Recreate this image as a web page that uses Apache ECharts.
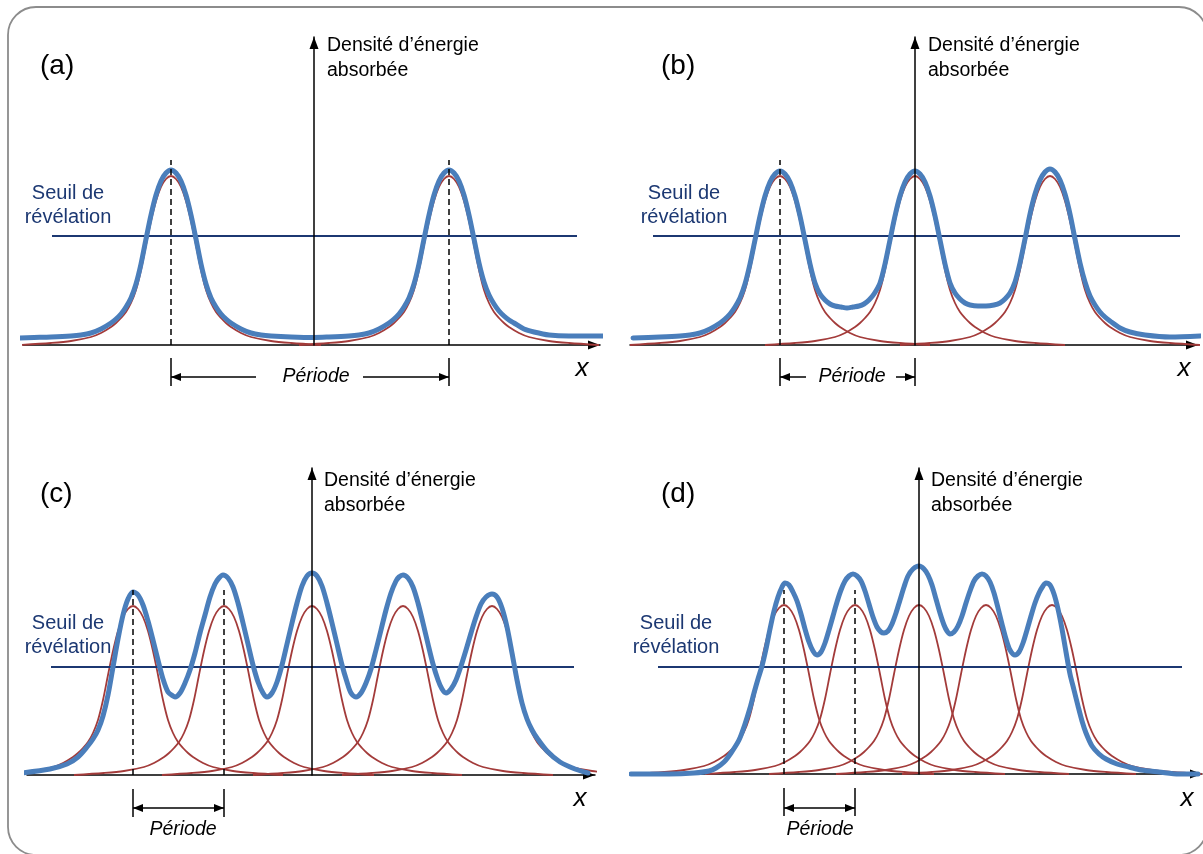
<!DOCTYPE html>
<html>
<head>
<meta charset="utf-8">
<script src="https://cdn.jsdelivr.net/npm/echarts@6/dist/echarts.min.js"></script>
<style>
html,body{margin:0;padding:0;background:#fff;}
#chart{width:1203px;height:854px;}
</style>
</head>
<body>
<div id="chart"></div>
<script>
// ---------------- DATA (x in arbitrary length units, y in arbitrary energy units) ----------------
const PANEL_NAMES = ['(a)', '(b)', '(c)', '(d)'];
const Y_TITLE = 'Densité d’énergie\nabsorbée';
const THRESHOLD_TITLE = 'Seuil de\nrévélation';
const PERIOD_TITLE = 'Période';
const X_TITLE = 'x';

// shape of one elementary (red) peak: [offset from its centre, height]
const PEAK_SHAPE = [[-15,0],[-12,2],[-10,4],[-8,8],[-7,12],[-6,18],[-5.5,22],[-5,27],[-4.5,33],[-4,42],[-3.5,55],[-3,75],[-2.5,100],[-2,124],[-1.5,144],[-1,158],[-0.5,166],[0,169],[0.5,166],[1,158],[1.5,144],[2,124],[2.5,100],[3,75],[3.5,55],[4,42],[4.5,33],[5,27],[5.5,22],[6,18],[7,12],[8,8],[10,4],[12,2],[15,0]];

// centres of the elementary peaks
const A_CENTERS = [-14.3, 13.5];
const B_CENTERS = [-13.5, 0, 13.5];
const C_CENTERS = [-17.9, -8.8, 0, 9.1, 18.0];
const D_CENTERS = [-13.5, -6.4, 0, 6.7, 13.3];

// resulting (blue) absorbed energy density
const A_SUM = [[-29.6,7],[-28,7.5],[-26.3,8],[-24.3,9],[-23.3,10],[-22.3,12],[-21.3,16],[-20.3,22],[-19.8,26],[-19.3,31],[-18.8,38],[-18.3,47],[-17.8,61],[-17.3,81],[-16.8,106],[-16.3,130],[-15.8,150],[-15.3,164],[-14.8,172],[-14.3,175],[-13.8,172],[-13.3,164],[-12.8,150],[-12.3,130],[-11.8,106],[-11.3,81],[-10.8,61],[-10.3,47],[-9.8,38],[-9.3,31],[-8.8,26],[-8.3,22],[-7.3,16],[-6.3,12],[-5.3,10],[-4.3,9],[-2.3,8],[0,7.5],[1.5,8],[3.5,9],[4.5,10],[5.5,12],[6.5,16],[7.5,22],[8.0,26],[8.5,31],[9.0,38],[9.5,47],[10.0,61],[10.5,81],[11.0,106],[11.5,130],[12.0,150],[12.5,164],[13.0,172],[13.5,175],[14.0,172],[14.5,164],[15.0,150],[15.5,130],[16.0,106],[16.5,82],[17.0,63],[17.5,50],[18.0,41],[18.5,34],[19.0,29],[19.5,25],[20.0,22],[21.0,16],[22.0,13],[23.5,10],[25.5,9],[28.9,9]];
const B_SUM = [[-28.2,7],[-25.5,8],[-23.5,9],[-22.5,10],[-21.5,12],[-20.5,16],[-19.5,22],[-19.0,26],[-18.5,31],[-18.0,38],[-17.5,47],[-17.0,61],[-16.5,81],[-16.0,105],[-15.5,129],[-15.0,149],[-14.5,163],[-14.0,171],[-13.5,174],[-13.0,171],[-12.5,163],[-12.0,149],[-11.5,129],[-11.0,105],[-10.5,81],[-10.0,62],[-9.5,51],[-9.0,45],[-8.5,41],[-8.0,39],[-7.4,38],[-6.8,37],[-6.2,38],[-5.6,39],[-5.1,41],[-4.6,45],[-4.1,51],[-3.5,62],[-3.0,81],[-2.5,105],[-2.0,129],[-1.5,149],[-1.0,163],[-0.5,171],[0,174],[0.5,171],[1.0,163],[1.5,149],[2.0,129],[2.5,105],[3.0,81],[3.5,62],[4.0,52],[4.5,46],[5.0,42],[5.5,40],[6.3,39],[7.1,39],[7.9,40],[8.5,42],[9.0,46],[9.5,52],[10.0,63],[10.5,82],[11.0,106],[11.5,131],[12.0,151],[12.5,165],[13.0,173],[13.5,176],[14.0,173],[14.5,165],[15.0,151],[15.5,131],[16.0,106],[16.5,82],[17.0,63],[17.5,49],[18.0,40],[18.5,33],[19.0,28],[19.5,24],[20.5,17],[21.5,13],[23.0,10],[25.5,8],[28.5,9]];
const C_SUM = [[-29.1,2],[-26.2,6],[-24.5,11],[-23.4,18],[-22.5,28],[-21.9,36],[-21.4,45],[-20.9,59],[-20.4,80],[-19.9,108],[-19.4,136],[-18.9,160],[-18.4,176],[-17.9,183],[-17.4,180],[-16.9,170],[-16.4,154],[-15.9,135],[-15.4,115],[-14.9,96],[-14.4,83],[-13.9,79],[-13.7,78],[-13.2,82],[-12.7,92],[-12.2,105],[-11.7,122],[-11.2,142],[-10.7,160],[-10.2,178],[-9.7,191],[-9.3,197],[-8.9,200],[-8.4,197],[-7.9,188],[-7.4,172],[-6.9,152],[-6.4,131],[-5.9,110],[-5.4,93],[-4.9,82],[-4.5,78],[-4.0,82],[-3.5,93],[-3.0,110],[-2.5,131],[-2.0,152],[-1.5,172],[-1.0,189],[-0.5,199],[0,202],[0.5,199],[1.0,189],[1.5,172],[2.0,152],[2.5,131],[3.0,110],[3.5,93],[3.9,82],[4.4,78],[4.9,82],[5.4,92],[5.9,106],[6.4,125],[6.9,145],[7.4,165],[7.9,182],[8.4,194],[8.7,198],[9.1,200],[9.6,197],[10.1,188],[10.6,172],[11.1,152],[11.6,131],[12.1,111],[12.6,95],[13.0,86],[13.4,82],[13.9,86],[14.4,95],[14.9,109],[15.4,125],[15.9,142],[16.4,158],[16.9,171],[17.4,178],[18.0,181],[18.5,178],[19.0,167],[19.5,148],[20.0,122],[20.5,95],[21.0,72],[21.5,56],[22.0,45],[22.5,37],[23.5,24],[24.8,13],[26.3,6],[27.6,2]];
const D_SUM = [[-28.8,0],[-25,0],[-22.5,1],[-21,3],[-20.3,6],[-19.5,12],[-18.8,21],[-18.0,34],[-17.4,50],[-16.9,66],[-16.5,81],[-16.1,95],[-15.7,108],[-15.3,125],[-14.9,145],[-14.5,163],[-14.1,177],[-13.7,187],[-13.4,191],[-13.0,189],[-12.6,182],[-12.2,173],[-11.8,160],[-11.4,145],[-11.0,132],[-10.6,123],[-10.2,119],[-9.8,122],[-9.4,131],[-9.0,144],[-8.6,158],[-8.2,172],[-7.8,184],[-7.4,193],[-7.0,198],[-6.6,200],[-6.2,198],[-5.8,193],[-5.4,183],[-5.0,170],[-4.6,157],[-4.2,147],[-3.8,142],[-3.5,141],[-3.1,143],[-2.7,150],[-2.3,161],[-1.9,174],[-1.5,187],[-1.1,198],[-0.6,205],[0,208],[0.5,205],[0.9,199],[1.3,189],[1.7,175],[2.1,161],[2.5,149],[2.8,143],[3.1,140],[3.5,142],[3.9,148],[4.3,158],[4.7,171],[5.1,183],[5.5,193],[5.9,198],[6.3,200],[6.7,198],[7.1,192],[7.5,181],[7.9,166],[8.3,150],[8.7,135],[9.1,124],[9.6,119],[10.0,122],[10.4,131],[10.8,144],[11.2,158],[11.6,171],[12.0,181],[12.4,188],[12.7,191],[13.1,189],[13.5,180],[13.9,165],[14.3,145],[14.7,122],[15.1,100],[15.5,84],[15.9,68],[16.3,53],[16.7,41],[17.3,28],[18.0,20],[18.7,15],[19.8,10],[21,7],[22.2,4],[24,2],[26.0,0],[27.9,0]];

// revelation threshold level
const THRESHOLDS = [109, 109, 108, 107];

// ---------------- LAYOUT ----------------
const BLUE = '#4a7ebb', RED = '#a33b3a', NAVY = '#1c3872', FRAME = '#8c8c8c';
const FONT = '"Liberation Sans", Arial, Helvetica, sans-serif';

const PANELS = [
  {grid:{left:23, top:37, width:577, height:308}, x:[-29.1,28.6], yMax:308, redRange:[-29.4,28.6],
   centers:A_CENTERS, sum:A_SUM, thrX:[-26.2,26.3], guides:[-14.3,13.5], guideTop:185,
   ticks:[-14.3,13.5], tickY:[-13,-41], arrows:[[-14.3,-5.8,true,false],[4.9,13.5,false,true]], arrowY:-32, textPos:[0.2,-32],
   name:[40,66], yTitle:[327,33], thrTitle:[68,181], xTitle:[582,369]},
  {grid:{left:630, top:37, width:568, height:308}, x:[-28.5,28.3], yMax:308, redRange:[-28.6,28.6],
   centers:B_CENTERS, sum:B_SUM, thrX:[-26.2,26.5], guides:[-13.5], guideTop:185,
   ticks:[-13.5,0], tickY:[-13,-41], arrows:[[-13.5,-10.9,true,false],[-1.9,0,false,true]], arrowY:-32, textPos:[-6.3,-32],
   name:[661,66], yTitle:[928,33], thrTitle:[684,181], xTitle:[1184,369]},
  {grid:{left:27, top:468, width:568, height:307}, x:[-28.5,28.3], yMax:307, redRange:[-29.95,30.05],
   centers:C_CENTERS, sum:C_SUM, thrX:[-26.1,26.2], guides:[-17.9,-8.8], guideTop:185,
   ticks:[-17.9,-8.8], tickY:[-14,-42], arrows:[[-17.9,-8.8,true,true]], arrowY:-33, textPos:[-12.9,-55],
   name:[40,494], yTitle:[324,468], thrTitle:[68,611], xTitle:[580,799]},
  {grid:{left:632, top:468, width:570, height:306}, x:[-28.7,28.3], yMax:306, redRange:[-28.8,28.4],
   centers:D_CENTERS, sum:D_SUM, thrX:[-26.1,26.3], guides:[-13.5,-6.4], guideTop:184,
   ticks:[-13.5,-6.4], tickY:[-14,-42], arrows:[[-13.5,-6.4,true,true]], arrowY:-34, textPos:[-9.9,-56],
   name:[661,494], yTitle:[931,468], thrTitle:[676,611], xTitle:[1187,799]}
];
const SUB_HEIGHT = 64;

const grids = [], xAxes = [], yAxes = [], series = [], graphics = [];

graphics.push({type:'rect', silent:true, z:-10,
  shape:{x:8, y:7, width:1199, height:848, r:28},
  style:{fill:null, stroke:FRAME, lineWidth:1.8}});

PANELS.forEach((p, i) => {
  const gi = 2 * i, si = 2 * i + 1;
  grids.push(Object.assign({}, p.grid));
  grids.push({left:p.grid.left, width:p.grid.width, top:p.grid.top + p.grid.height, height:SUB_HEIGHT});

  const axisLineStyle = {color:'#000', width:1.5};
  xAxes.push({type:'value', gridIndex:gi, min:p.x[0], max:p.x[1], z:1,
    axisLine:{show:true, onZero:true, symbol:['none','triangle'], symbolSize:[9,12], symbolOffset:[0,-6], lineStyle:axisLineStyle},
    axisTick:{show:false}, axisLabel:{show:false}, splitLine:{show:false}});
  yAxes.push({type:'value', gridIndex:gi, min:0, max:p.yMax, z:10,
    axisLine:{show:true, onZero:true, symbol:['none','triangle'], symbolSize:[9,12], symbolOffset:[0,-6], lineStyle:axisLineStyle},
    axisTick:{show:false}, axisLabel:{show:false}, splitLine:{show:false}});
  xAxes.push({type:'value', gridIndex:si, min:p.x[0], max:p.x[1], show:false});
  yAxes.push({type:'value', gridIndex:si, min:-SUB_HEIGHT, max:0, show:false});

  // elementary peaks
  p.centers.forEach(c => {
    const pts = PEAK_SHAPE.map(([o, h]) => [+(c + o).toFixed(2), h])
      .filter(([x]) => x >= p.redRange[0] && x <= p.redRange[1]);
    series.push({type:'line', xAxisIndex:gi, yAxisIndex:gi, data:pts, smooth:0.3, showSymbol:false,
      clip:false, silent:true, z:2, lineStyle:{color:RED, width:1.8}});
  });
  // threshold
  series.push({type:'line', xAxisIndex:gi, yAxisIndex:gi, showSymbol:false, clip:false, silent:true, z:3,
    data:[[p.thrX[0], THRESHOLDS[i]], [p.thrX[1], THRESHOLDS[i]]], lineStyle:{color:NAVY, width:1.8}});
  // sum
  series.push({type:'line', xAxisIndex:gi, yAxisIndex:gi, data:p.sum, smooth:0.3, showSymbol:false,
    clip:false, silent:true, z:4, lineStyle:{color:BLUE, width:5, cap:'round', join:'round'}});
  // dashed guides at peak centres
  p.guides.forEach(g => {
    series.push({type:'line', xAxisIndex:gi, yAxisIndex:gi, showSymbol:false, clip:false, silent:true, z:5,
      data:[[g, 0], [g, p.guideTop]], lineStyle:{color:'#000', width:1.5, type:[6,4]}});
  });
  // period annotation
  const mlData = [];
  p.ticks.forEach(t => mlData.push([{coord:[t, p.tickY[0]], symbol:'none'}, {coord:[t, p.tickY[1]], symbol:'none'}]));
  p.arrows.forEach(a => mlData.push([
    {coord:[a[0], p.arrowY], symbol:a[2] ? 'triangle' : 'none'},
    {coord:[a[1], p.arrowY], symbol:a[3] ? 'triangle' : 'none'}]));
  series.push({type:'line', xAxisIndex:si, yAxisIndex:si, data:[[p.ticks[0], p.arrowY]], showSymbol:false,
    silent:true, lineStyle:{opacity:0},
    markLine:{silent:true, animation:false, symbol:['triangle','triangle'], symbolSize:[8,10],
      symbolOffset:[[0,5],[0,5]], label:{show:false}, emphasis:{disabled:true},
      lineStyle:{color:'#000', width:1.5, type:'solid'}, data:mlData},
    markPoint:{silent:true, animation:false, symbol:'circle', symbolSize:1, itemStyle:{color:'rgba(0,0,0,0)'},
      label:{show:true, position:'inside', formatter:PERIOD_TITLE, color:'#000', fontSize:19.5,
        fontStyle:'italic', fontFamily:FONT},
      data:[{coord:p.textPos, value:0}]}});

  // texts
  graphics.push({type:'text', silent:true, x:p.name[0], y:p.name[1],
    style:{text:PANEL_NAMES[i], fontSize:28, fontFamily:FONT, fill:'#000', align:'left', verticalAlign:'middle'}});
  graphics.push({type:'text', silent:true, x:p.yTitle[0], y:p.yTitle[1],
    style:{text:Y_TITLE, fontSize:19.5, lineHeight:25, fontFamily:FONT, fill:'#000', align:'left', verticalAlign:'top'}});
  graphics.push({type:'text', silent:true, x:p.thrTitle[0], y:p.thrTitle[1],
    style:{text:THRESHOLD_TITLE, fontSize:20, lineHeight:24, fontFamily:FONT, fill:NAVY, align:'center', verticalAlign:'top'}});
  graphics.push({type:'text', silent:true, x:p.xTitle[0], y:p.xTitle[1],
    style:{text:X_TITLE, fontSize:26, fontStyle:'italic', fontFamily:FONT, fill:'#000', align:'center', verticalAlign:'middle'}});
});

const chart = echarts.init(document.getElementById('chart'), null, {renderer:'canvas'});
chart.setOption({
  animation:false,
  backgroundColor:'#fff',
  grid:grids, xAxis:xAxes, yAxis:yAxes, series:series,
  graphic:{elements:graphics}
});
</script>
</body>
</html>
